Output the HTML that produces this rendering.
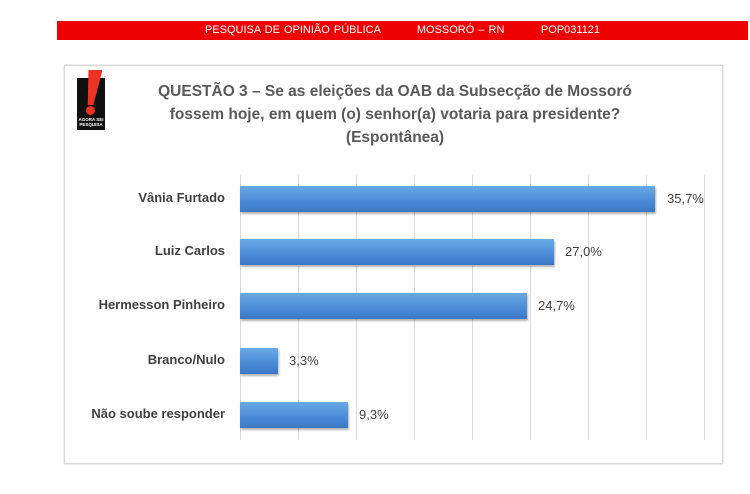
<!DOCTYPE html>
<html><head><meta charset="utf-8"><style>
body{margin:0;width:750px;height:494px;background:#fff;position:relative;overflow:hidden;font-family:"Liberation Sans",sans-serif}
.ban{position:absolute;left:57px;top:21px;width:691px;height:19px;background:#ee0000;color:#fff;font-size:11px;line-height:19px;text-align:center;word-spacing:1px}
.box{position:absolute;left:64px;top:65px;width:657px;height:397px;border:1px solid #d9d9d9;box-shadow:0 0 2px #ccc}
.t{position:absolute;left:140px;width:510px;text-align:center;top:80px;font-size:15.5px;font-weight:bold;color:#595959;line-height:23px}
.g{position:absolute;top:175px;height:265px;width:1px;background:#d9d9d9}
.bar{position:absolute;left:240px;height:26px;background:linear-gradient(#6aa9e6,#4a8ad6 60%,#3a78c4);box-shadow:1px 2px 2px rgba(0,0,0,.3)}
.l{position:absolute;right:525px;font-size:13px;font-weight:bold;color:#404040;white-space:nowrap}
.v{position:absolute;font-size:13px;color:#404040}
</style></head><body>
<div class="ban">PESQUISA DE OPINIÃO PÚBLICA &nbsp;&nbsp;&nbsp;&nbsp;&nbsp;&nbsp;&nbsp; MOSSORÓ – RN &nbsp;&nbsp;&nbsp;&nbsp;&nbsp;&nbsp;&nbsp; POP031121</div>
<div class="box"></div>
<div style="position:absolute;left:77px;top:78px;width:28px;height:52px;background:#111"></div>
<div style="position:absolute;left:86px;top:70px;width:14px;height:35px;background:#e32;transform:skewX(-8deg);clip-path:polygon(0 0,100% 0,70% 100%,30% 100%)"></div>
<div style="position:absolute;left:86px;top:106px;width:9px;height:9px;border-radius:50%;background:#e32"></div>
<div style="position:absolute;left:77px;top:117px;width:28px;font-size:4.5px;color:#fff;text-align:center;font-weight:bold">AGORA SEI<br>PESQUISA</div>
<div class="t">QUESTÃO 3 – Se as eleições da OAB da Subsecção de Mossoró<br>fossem hoje, em quem (o) senhor(a) votaria para presidente?<br>(Espontânea)</div>
<div class="g" style="left:240px"></div><div class="g" style="left:298px"></div><div class="g" style="left:356px"></div><div class="g" style="left:414px"></div><div class="g" style="left:472px"></div><div class="g" style="left:530px"></div><div class="g" style="left:588px"></div><div class="g" style="left:646px"></div><div class="g" style="left:704px"></div>
<div class="bar" style="top:186px;width:415px"></div><div class="l" style="top:190px">Vânia Furtado</div><div class="v" style="left:667px;top:191px">35,7%</div>
<div class="bar" style="top:239px;width:314px"></div><div class="l" style="top:243px">Luiz Carlos</div><div class="v" style="left:565px;top:244px">27,0%</div>
<div class="bar" style="top:293px;width:287px"></div><div class="l" style="top:297px">Hermesson Pinheiro</div><div class="v" style="left:538px;top:298px">24,7%</div>
<div class="bar" style="top:348px;width:38px"></div><div class="l" style="top:352px">Branco/Nulo</div><div class="v" style="left:289px;top:353px">3,3%</div>
<div class="bar" style="top:402px;width:108px"></div><div class="l" style="top:406px">Não soube responder</div><div class="v" style="left:359px;top:407px">9,3%</div>
</body></html>
